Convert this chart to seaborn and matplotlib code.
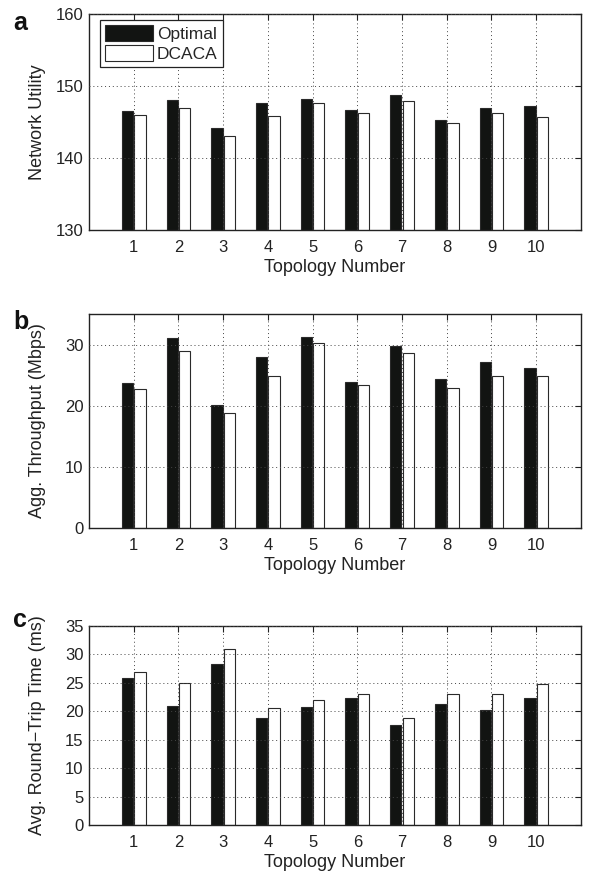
import numpy as np
import pandas as pd
import matplotlib
matplotlib.use("Agg")
import matplotlib.pyplot as plt
import seaborn as sns

topologies = ["1", "2", "3", "4", "5", "6", "7", "8", "9", "10"]
methods = ["Optimal", "DCACA"]

utility_optimal = [146.5, 148.1, 144.15, 147.6, 148.2, 146.6, 148.75, 145.3, 146.9, 147.25]
utility_dcaca = [146.0, 147.0, 143.1, 145.9, 147.6, 146.3, 147.9, 144.8, 146.3, 145.7]

throughput_optimal = [23.7, 31.1, 20.2, 27.9, 31.25, 23.95, 29.8, 24.3, 27.1, 26.2]
throughput_dcaca = [22.75, 28.9, 18.8, 24.8, 30.2, 23.4, 28.7, 22.9, 24.9, 24.8]

rtt_optimal = [25.85, 20.9, 28.3, 18.8, 20.8, 22.4, 17.5, 21.3, 20.3, 22.4]
rtt_dcaca = [26.9, 24.9, 30.9, 20.6, 21.9, 23.1, 18.9, 23.1, 23.0, 24.8]

y_labels = ["Network Utility", "Agg. Throughput (Mbps)", "Avg. Round\u2212Trip Time (ms)"]
panel_letters = ["a", "b", "c"]
x_label = "Topology Number"


def make_df(opt, dca):
    return pd.DataFrame({
        "Topology": topologies * 2,
        "Method": [methods[0]] * len(topologies) + [methods[1]] * len(topologies),
        "Value": list(opt) + list(dca),
    })


sns.set_style("white")
plt.rcParams["font.family"] = ["Liberation Sans", "DejaVu Sans"]
plt.rcParams["axes.unicode_minus"] = True

fig = plt.figure(figsize=(5.92, 8.74), dpi=100)
left, width = 0.1503, 0.831
positions = [
    (left, 0.7368, width, 0.2472),
    (left, 0.3959, width, 0.2448),
    (left, 0.0561, width, 0.2277),
]
datasets = [
    (utility_optimal, utility_dcaca, (130, 160), [130, 140, 150, 160]),
    (throughput_optimal, throughput_dcaca, (0, 35), [0, 10, 20, 30]),
    (rtt_optimal, rtt_dcaca, (0, 35), [0, 5, 10, 15, 20, 25, 30, 35]),
]
palette = {"Optimal": "#121412", "DCACA": "#ffffff"}
letter_y = [0.987, 0.645, 0.304]

for i, (pos, (opt, dca, ylim, yticks)) in enumerate(zip(positions, datasets)):
    ax = fig.add_axes(pos)
    df = make_df(opt, dca)
    sns.barplot(data=df, x="Topology", y="Value", hue="Method", order=topologies,
                hue_order=methods, palette=palette, width=0.56, gap=0.1,
                edgecolor="#2a2a2a", linewidth=0.8, legend=(i == 0), ax=ax,
                errorbar=None)
    ax.set_xlim(-1, 10)
    ax.set_ylim(*ylim)
    ax.set_yticks(yticks)
    ax.set_axisbelow(False)
    ax.grid(True, which="major", axis="both", color="#444444", linestyle=(0, (1, 3)),
            linewidth=0.7)
    ax.tick_params(direction="in", top=True, right=True, length=4, width=0.8,
                   labelsize=12, colors="#222222", pad=4)
    ax.tick_params(axis="x", pad=7)
    for sp in ax.spines.values():
        sp.set_color("#222222")
        sp.set_linewidth(1.0)
    ax.set_xlabel(x_label, fontsize=13, color="#222222", labelpad=3)
    ax.set_ylabel(y_labels[i], fontsize=13, color="#222222")
    ax.yaxis.set_label_coords(-0.087, 0.5)
    if i == 0:
        ax.legend(loc="upper left", bbox_to_anchor=(0.022, 0.972), borderaxespad=0,
                  title=None, fontsize=12.5, frameon=True, fancybox=False,
                  edgecolor="#222222", framealpha=1, handlelength=2.75,
                  handleheight=1.0, handletextpad=0.25, labelspacing=0.2,
                  borderpad=0.3)
        ax.get_legend().get_frame().set_linewidth(0.9)
    fig.text(0.022, letter_y[i], panel_letters[i], fontsize=18, fontweight="bold",
             va="top", ha="left", color="#111111")

fig.savefig("out.png", dpi=100)
